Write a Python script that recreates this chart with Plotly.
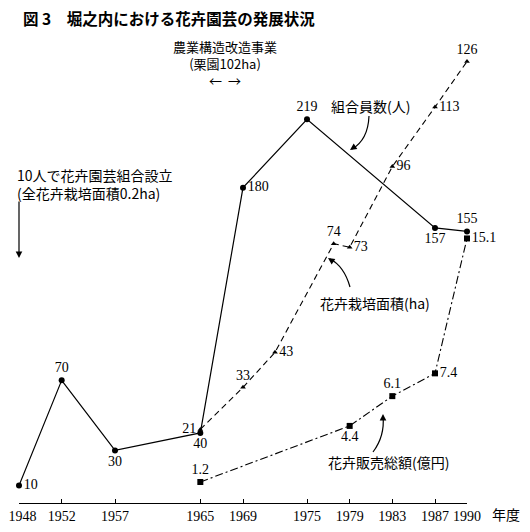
import plotly.graph_objects as go

# データ
tick_years = [1948, 1952, 1957, 1965, 1969, 1975, 1979, 1983, 1987, 1990]

member_years = [1948, 1952, 1957, 1965, 1969, 1975, 1987, 1990]
members = [10, 70, 30, 40, 180, 219, 157, 155]

area_years = [1965, 1969, 1972, 1977.5, 1979, 1983, 1987, 1990]
area = [21, 33, 43, 74, 73, 96, 113, 126]

sales_years = [1965, 1979, 1983, 1987, 1990]
sales = [1.2, 4.4, 6.1, 7.4, 15.1]

# ページ本体の余白(8px)を差し引いた図のサイズ
OFF = 8
W, H = 522, 524
ML, MR, MT, MB = 11, 63, 50, 29
PW, PH = W - ML - MR, H - MT - MB

SERIF = "Liberation Serif"
JP = "Noto Sans CJK JP"


def px(x):
    # 画面上の画素 -> paper座標
    return (x - OFF - ML) / PW


def py(y):
    return (H - MB - (y - OFF)) / PH


fig = go.Figure()

# 組合員数（実線・●）
fig.add_trace(go.Scatter(
    x=member_years, y=members, mode='lines+markers+text',
    text=[str(v) for v in members],
    textposition=['middle right', 'top center', 'bottom center', 'bottom center',
                  'middle right', 'top center', 'bottom center', 'top center'],
    textfont=dict(family=SERIF, size=14, color='black'),
    line=dict(color='black', width=1.2),
    marker=dict(symbol='circle', size=6, color='black'),
    cliponaxis=False, showlegend=False, yaxis='y'
))

# 花卉栽培面積（破線・▲）
fig.add_trace(go.Scatter(
    x=area_years, y=area, mode='lines+markers+text',
    text=[str(v) for v in area],
    textposition=['middle left', 'top center', 'middle right', 'top center',
                  'middle right', 'middle right', 'middle right', 'top center'],
    textfont=dict(family=SERIF, size=14, color='black'),
    line=dict(color='black', width=1.1, dash='6px,4px'),
    marker=dict(symbol='triangle-up', size=5, color='black'),
    cliponaxis=False, showlegend=False, yaxis='y2'
))

# 花卉販売総額（一点鎖線・■）
fig.add_trace(go.Scatter(
    x=sales_years, y=sales, mode='lines+markers+text',
    text=[f'{v:.1f}' for v in sales],
    textposition=['top center', 'bottom center', 'top center',
                  'middle right', 'middle right'],
    textfont=dict(family=SERIF, size=14, color='black'),
    line=dict(color='black', width=1.1, dash='8px,3px,2px,3px'),
    marker=dict(symbol='square', size=6, color='black'),
    cliponaxis=False, showlegend=False, yaxis='y3'
))

annotations = [
    dict(text='<b>図 3　堀之内における花卉園芸の発展状況</b>', x=px(21), y=py(18.5),
         xanchor='left', font=dict(family=JP, size=15.5, color='black')),
    dict(text='農業構造改造事業<br>(栗園102ha)<br>←  →', x=px(225), y=py(63),
         font=dict(family=JP, size=13, color='black')),
    dict(text='組合員数(人)', x=px(370), y=py(106)),
    dict(text='花卉栽培面積(ha)', x=px(375), y=py(303)),
    dict(text='花卉販売総額(億円)', x=px(388), y=py(462)),
    dict(text='10人で花卉園芸組合設立<br>(全花卉栽培面積0.2ha)', x=px(15), y=py(184),
         xanchor='left', align='left'),
    dict(text='年度', x=px(506), y=py(514)),
]
for a in annotations:
    a.setdefault('xref', 'paper')
    a.setdefault('yref', 'paper')
    a.setdefault('showarrow', False)
    a.setdefault('xanchor', 'center')
    a.setdefault('yanchor', 'middle')
    a.setdefault('font', dict(family=JP, size=14, color='black'))

# 矢印（先端のみ）
arrow_tips = [
    (350, 150, 6, -4),
    (328, 258, 6, 4),
    (383, 414, 0, 7),
    (19, 258, 0, -58),
]
for tx, ty, axo, ayo in arrow_tips:
    annotations.append(dict(
        x=px(tx), y=py(ty), xref='paper', yref='paper', text='',
        showarrow=True, arrowhead=2, arrowsize=1.1, arrowwidth=1.2,
        arrowcolor='black', ax=axo, ay=ayo
    ))

# 曲線の引き出し線
curves = [
    ((369, 116), (368, 140), (352, 149)),
    ((350, 287), (344, 266), (330, 259)),
    ((373, 452), (385, 436), (383, 416)),
]
shapes = []
for (x0, y0), (cx, cy), (x1, y1) in curves:
    shapes.append(dict(
        type='path', xref='paper', yref='paper',
        path=f'M {px(x0)},{py(y0)} Q {px(cx)},{py(cy)} {px(x1)},{py(y1)}',
        line=dict(color='black', width=1.2)
    ))

# 左端の目盛ラベルが切れないよう少し右へ寄せる
tick_text = [str(y) for y in tick_years]
tick_text[0] = '\u00a0\u00a0' + tick_text[0]

fig.update_layout(
    width=W, height=H,
    margin=dict(l=ML, r=MR, t=MT, b=MB, pad=0),
    plot_bgcolor='white', paper_bgcolor='white',
    xaxis=dict(
        range=[1948, 1990], tickmode='array', tickvals=tick_years,
        ticktext=tick_text,
        tickfont=dict(family=SERIF, size=14, color='black'),
        showline=True, linecolor='black', linewidth=1.2,
        ticks='inside', ticklen=4, tickcolor='black', tickwidth=1,
        showgrid=False, zeroline=False, automargin=False,
        ticklabeloverflow='allow'
    ),
    yaxis=dict(range=[0, 254], visible=False, automargin=False),
    yaxis2=dict(range=[0, 127], visible=False, overlaying='y'),
    yaxis3=dict(range=[0, 25.4], visible=False, overlaying='y'),
    annotations=annotations,
    shapes=shapes,
)

fig.write_html("out.html")
